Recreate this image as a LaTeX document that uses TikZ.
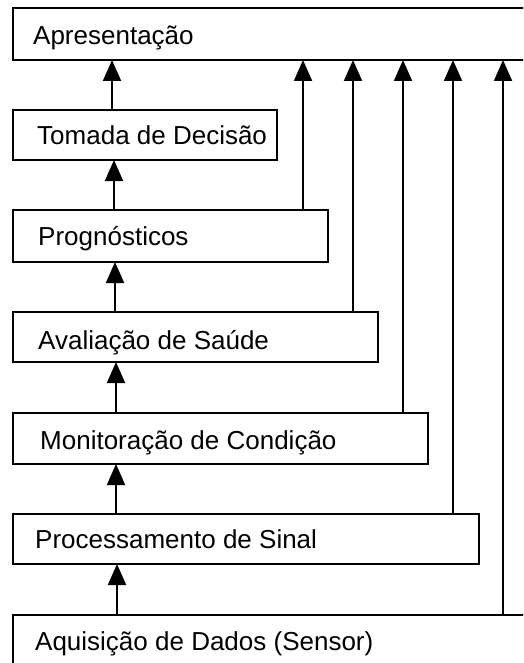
\documentclass[tikz,border=0pt]{standalone}
\usepackage{fontspec}
\setmainfont{Liberation Sans}
\usetikzlibrary{arrows.meta}
\begin{document}
\begin{tikzpicture}[x=1pt,y=-1pt,
  box/.style={draw, line width=2pt, anchor=north west, outer sep=0pt, inner sep=0pt},
  lbl/.style={anchor=base west, inner sep=0pt, font=\fontsize{26}{30}\selectfont},
  arr/.style={line width=2pt, -{Triangle[width=18pt,length=21pt]}}]
\useasboundingbox (0,0) rectangle (523,663);
\clip (0,0) rectangle (523,663);
\fill[white] (0,0) rectangle (523,663);
% boxes
\node[box, minimum width=527pt, minimum height=52pt] (apr) at (13,8) {};
\node[box, minimum width=264pt, minimum height=50pt] (tom) at (13,110) {};
\node[box, minimum width=315pt, minimum height=52pt] (prog) at (13,210) {};
\node[box, minimum width=365pt, minimum height=50pt] (aval) at (13,312) {};
\node[box, minimum width=415pt, minimum height=51pt] (mon) at (13,413) {};
\node[box, minimum width=466pt, minimum height=50pt] (proc) at (13,514) {};
\node[box, minimum width=527pt, minimum height=65pt] (aq) at (13,615) {};
% labels
\node[lbl] (aprt) at (33,45) {Apresentação};
\node[lbl] (tomt) at (37,145) {Tomada de Decisão};
\node[lbl] (progt) at (38,245) {Prognósticos};
\node[lbl] (avalt) at (38,349) {Avaliação de Saúde};
\node[lbl] (mont) at (40,449) {Monitoração de Condição};
\node[lbl] (proct) at (35,548) {Processamento de Sinal};
\node[lbl] (aqt) at (35,650) {Aquisição de Dados (Sensor)};
% column coordinates
\coordinate (c0) at (112,0);
\coordinate (c1) at (114,0);
\coordinate (c2) at (115,0);
\coordinate (c3) at (116,0);
\coordinate (c4) at (116,0);
\coordinate (c5) at (117,0);
\coordinate (k1) at (303,0);
\coordinate (k2) at (353,0);
\coordinate (k3) at (403,0);
\coordinate (k4) at (453,0);
\coordinate (k5) at (503,0);
% chain arrows
\draw[arr] (c0 |- tom.north) -- (c0 |- apr.south);
\draw[arr] (c1 |- prog.north) -- (c1 |- tom.south);
\draw[arr] (c2 |- aval.north) -- (c2 |- prog.south);
\draw[arr] (c3 |- mon.north) -- (c3 |- aval.south);
\draw[arr] (c4 |- proc.north) -- (c4 |- mon.south);
\draw[arr] (c5 |- aq.north) -- (c5 |- proc.south);
% direct links to presentation
\draw[arr] (k1 |- prog.north) -- (k1 |- apr.south);
\draw[arr] (k2 |- aval.north) -- (k2 |- apr.south);
\draw[arr] (k3 |- mon.north) -- (k3 |- apr.south);
\draw[arr] (k4 |- proc.north) -- (k4 |- apr.south);
\draw[arr] (k5 |- aq.north) -- (k5 |- apr.south);
\end{tikzpicture}
\end{document}
